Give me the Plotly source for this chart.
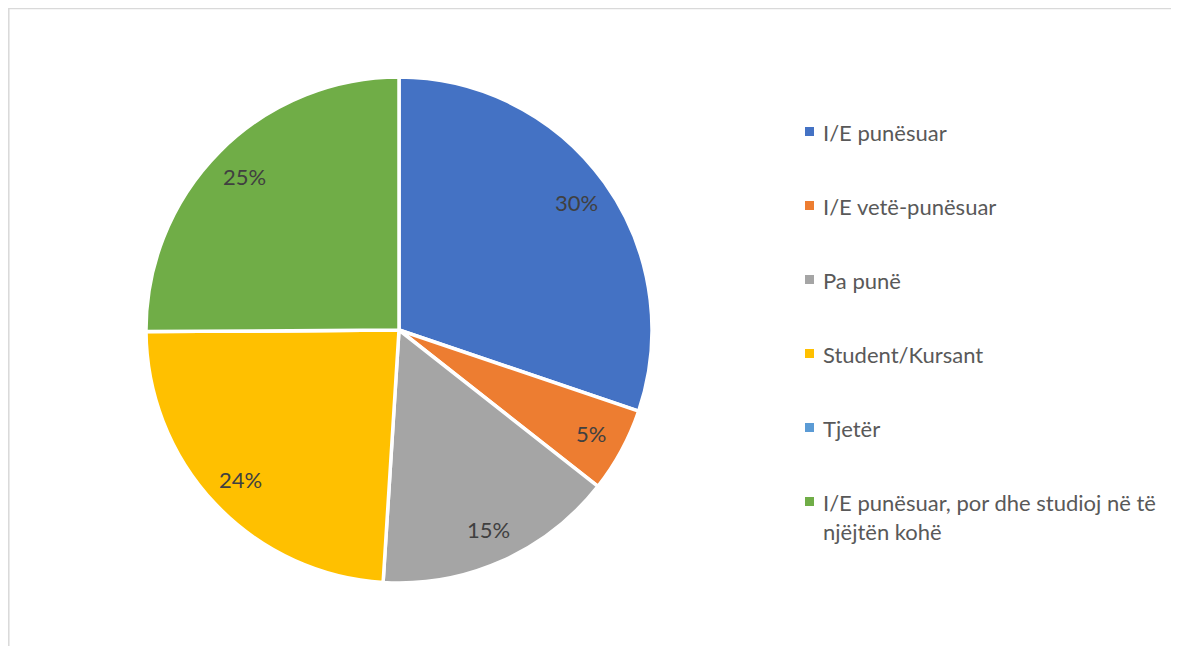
import math
import plotly.graph_objects as go

W, H = 1179, 646

labels = ["I/E punësuar", "I/E vetë-punësuar", "Pa punë", "Student/Kursant", "Tjetër",
          "I/E punësuar, por dhe studioj në të<br>njëjtën kohë"]
values = [30.2, 5.4, 15.4, 23.9, 0.0, 25.1]
pct_text = ["30%", "5%", "15%", "24%", "", "25%"]
colors = ["#4472C4", "#ED7D31", "#A5A5A5", "#FFC000", "#5B9BD5", "#70AD47"]

FONT = "Lato, Carlito, Calibri, sans-serif"

# pie geometry (figure pixels)
CX, CY, R = 391, 322, 251
RD = R + 2  # domain half-size (plotly insets the pie slightly)

fig = go.Figure()
fig.add_trace(go.Pie(
    labels=labels,
    values=values,
    textinfo="none",
    marker=dict(colors=colors, line=dict(color="white", width=3.5)),
    sort=False,
    direction="clockwise",
    rotation=0,
    showlegend=False,
    hoverinfo="label+percent",
    domain=dict(x=[(CX - RD) / W, (CX + RD) / W], y=[1 - (CY + RD) / H, 1 - (CY - RD) / H]),
))

annotations = []
shapes = []

# data labels, placed Excel-style (outer part of each slice)
total = sum(values)
cum = 0.0
for v, t in zip(values, pct_text):
    mid = (cum + v / 2) / total * 2 * math.pi
    cum += v
    if not t:
        continue
    px = CX + 0.87 * R * math.sin(mid)
    py = CY - 0.87 * R * math.cos(mid)
    annotations.append(dict(x=px / W, y=1 - py / H, xref="paper", yref="paper",
                            text=t, showarrow=False, xanchor="center", yanchor="middle",
                            font=dict(family=FONT, size=22, color="#404040")))

# custom legend (Excel-style spacing)
row_y0 = 123.5
row_dy = 74
for i, (lab, col) in enumerate(zip(labels, colors)):
    cy = row_y0 + i * row_dy
    shapes.append(dict(type="rect", xref="paper", yref="paper",
                       x0=797 / W, x1=806 / W, y0=1 - (cy + 4.5) / H, y1=1 - (cy - 4.5) / H,
                       fillcolor=col, line=dict(width=0)))
    annotations.append(dict(x=813 / W, y=1 - (cy - 14.5) / H, xref="paper", yref="paper",
                            text=lab, showarrow=False, xanchor="left", yanchor="top",
                            align="left",
                            font=dict(family=FONT, size=22, color="#595959")))

# chart area border
shapes.append(dict(type="rect", xref="paper", yref="paper",
                   x0=0.8 / W, x1=1.02, y0=-0.05, y1=1 - 0.5 / H,
                   line=dict(color="#D9D9D9", width=1.5), fillcolor="rgba(0,0,0,0)"))

fig.update_layout(
    width=W, height=H,
    margin=dict(l=0, r=0, t=0, b=0),
    paper_bgcolor="white",
    plot_bgcolor="white",
    shapes=shapes,
    annotations=annotations,
)

fig.write_html("out.html")
